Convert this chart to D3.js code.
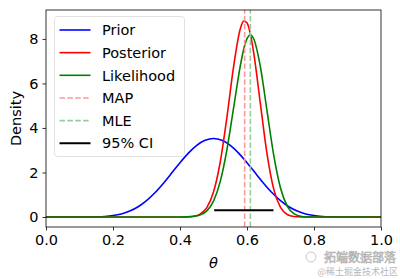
<!DOCTYPE html>
<html>
<head>
<meta charset="utf-8">
<script src="https://cdn.jsdelivr.net/npm/d3@7"></script>
<style>
  body { margin: 0; background: #fff; }
  svg { display: block; font-family: "DejaVu Sans", sans-serif; }
</style>
</head>
<body>
<div id="chart"></div>
<script>
// values
var priorTheta = [0, 0.05, 0.1, 0.125, 0.15, 0.175, 0.2, 0.225, 0.25, 0.275, 0.3, 0.325, 0.35, 0.375, 0.4, 0.425, 0.45, 0.475, 0.5,
                  0.525, 0.55, 0.575, 0.6, 0.625, 0.65, 0.675, 0.7, 0.725, 0.75, 0.775, 0.8, 0.825, 0.85, 0.875, 0.9, 0.95, 1]
var priorValues = [0, 0, 0.0004, 0.002, 0.008, 0.025, 0.064, 0.138, 0.265, 0.46, 0.734, 1.087, 1.508, 1.971, 2.441, 2.871, 3.219, 3.443, 3.524,
                   3.443, 3.219, 2.871, 2.441, 1.971, 1.508, 1.087, 0.734, 0.46, 0.265, 0.138, 0.064, 0.025, 0.008, 0.002, 0.0004, 0, 0]

var theta = [0, 0.1, 0.2, 0.3, 0.38, 0.4, 0.42, 0.44, 0.46, 0.48, 0.5, 0.52, 0.54, 0.56, 0.58, 0.59, 0.6, 0.61, 0.62,
             0.64, 0.66, 0.68, 0.7, 0.72, 0.74, 0.76, 0.78, 0.8, 0.82, 0.9, 1]
var posteriorValues = [0, 0, 0, 0, 0, 0.0012, 0.0069, 0.034, 0.132, 0.423, 1.119, 2.459, 4.476, 6.76, 8.454, 8.798, 8.721, 8.228, 7.381,
                       5.082, 2.818, 1.24, 0.427, 0.112, 0.022, 0.003, 0.0003, 0, 0, 0, 0]
var likelihoodValues = [0, 0, 0, 0, 0, 0.0011, 0.0056, 0.024, 0.089, 0.273, 0.713, 1.589, 3.019, 4.901, 6.791, 7.528, 8.011, 8.18, 8.009,
                        6.743, 4.743, 2.755, 1.303, 0.493, 0.146, 0.033, 0.0054, 0.0006, 0, 0, 0]

var mapValue = 0.593
var mleValue = 0.61
var ciBounds = [0.502, 0.679]
var ciLevel = 0.3

var xTicks = [0, 0.2, 0.4, 0.6, 0.8, 1.0]
var yTicks = [0, 2, 4, 6, 8]
var legendLabels = ["Prior", "Posterior", "Likelihood", "MAP", "MLE", "95% CI"]

var W = 400, H = 279
var margin = {top: 10, right: 19, bottom: 52, left: 46}

var svg = d3.select("#chart").append("svg")
    .attr("width", W)
    .attr("height", H)

var x = d3.scaleLinear().domain([0, 1]).range([margin.left, W - margin.right])
var y = d3.scaleLinear().domain([-0.45, 9.3]).range([H - margin.bottom, margin.top])

var fontSize = "14.5px"

var plot = svg.append("g")

var line = d3.line()
    .x(function(d) { return x(d[0]) })
    .y(function(d) { return y(d[1]) })
    .curve(d3.curveMonotoneX)

var series = [
  {name: "Prior", color: "#0000ff", pts: d3.zip(priorTheta, priorValues)},
  {name: "Posterior", color: "#ff0000", pts: d3.zip(theta, posteriorValues)},
  {name: "Likelihood", color: "#008000", pts: d3.zip(theta, likelihoodValues)}
]

plot.selectAll("path.curve")
  .data(series)
  .enter()
  .append("path")
    .attr("class", "curve")
    .attr("fill", "none")
    .attr("stroke", function(d) { return d.color })
    .attr("stroke-width", 1.6)
    .attr("d", function(d) { return line(d.pts) })

// MAP / MLE vertical lines across the whole axes
var vlines = [
  {v: mapValue, color: "#ff9999"},
  {v: mleValue, color: "#99cc99"}
]
plot.selectAll("line.vl")
  .data(vlines)
  .enter()
  .append("line")
    .attr("class", "vl")
    .attr("x1", function(d) { return x(d.v) })
    .attr("x2", function(d) { return x(d.v) })
    .attr("y1", y.range()[0])
    .attr("y2", y.range()[1])
    .attr("stroke", function(d) { return d.color })
    .attr("stroke-width", 1.6)
    .attr("stroke-dasharray", "5.5,2.4")

// credible interval bar
plot.append("line")
    .attr("x1", x(ciBounds[0]))
    .attr("x2", x(ciBounds[1]))
    .attr("y1", y(ciLevel))
    .attr("y2", y(ciLevel))
    .attr("stroke", "#000")
    .attr("stroke-width", 2)

// axes
var xAxis = svg.append("g")
    .attr("transform", "translate(0," + (H - margin.bottom) + ")")
    .call(d3.axisBottom(x).tickValues(xTicks).tickFormat(d3.format(".1f")).tickSize(3.5).tickPadding(4))
var yAxis = svg.append("g")
    .attr("transform", "translate(" + margin.left + ",0)")
    .call(d3.axisLeft(y).tickValues(yTicks).tickFormat(d3.format("d")).tickSize(3.5).tickPadding(4))

svg.selectAll(".domain").remove()
svg.selectAll(".tick line").attr("stroke", "#000").attr("stroke-width", 0.8)
svg.selectAll(".tick text")
    .attr("fill", "#000")
    .style("font-size", fontSize)
    .style("font-family", "DejaVu Sans")

// frame
svg.append("rect")
    .attr("x", margin.left)
    .attr("y", margin.top)
    .attr("width", W - margin.left - margin.right)
    .attr("height", H - margin.top - margin.bottom)
    .attr("fill", "none")
    .attr("stroke", "#000")
    .attr("stroke-width", 0.8)

// axis labels
svg.append("text")
    .attr("x", (margin.left + W - margin.right) / 2)
    .attr("y", 268)
    .attr("text-anchor", "middle")
    .style("font-size", fontSize)
    .style("font-style", "italic")
    .text("θ")
svg.append("text")
    .attr("transform", "translate(21," + (margin.top + H - margin.bottom) / 2 + ") rotate(-90)")
    .attr("text-anchor", "middle")
    .style("font-size", fontSize)
    .text("Density")

// legend
var legend = svg.append("g")
legend.append("rect")
    .attr("x", 54.5)
    .attr("y", 16.5)
    .attr("width", 130)
    .attr("height", 140)
    .attr("rx", 3)
    .attr("fill", "#fff")
    .attr("fill-opacity", 0.8)
    .attr("stroke", "#d9d9d9")
    .attr("stroke-width", 0.8)

var legendStyle = [
  {color: "#0000ff", dash: null, w: 1.6},
  {color: "#ff0000", dash: null, w: 1.6},
  {color: "#008000", dash: null, w: 1.6},
  {color: "#ff9999", dash: "5.5,2.4", w: 1.6},
  {color: "#99cc99", dash: "5.5,2.4", w: 1.6},
  {color: "#000000", dash: null, w: 2}
]

var items = legend.selectAll("g.item")
  .data(legendLabels)
  .enter()
  .append("g")
    .attr("class", "item")
    .attr("transform", function(d, i) { return "translate(0," + (30 + i * 22.65) + ")" })

items.append("line")
    .attr("x1", 59.5)
    .attr("x2", 90.5)
    .attr("stroke", function(d, i) { return legendStyle[i].color })
    .attr("stroke-width", function(d, i) { return legendStyle[i].w })
    .attr("stroke-dasharray", function(d, i) { return legendStyle[i].dash })
items.append("text")
    .attr("x", 102)
    .attr("dy", "0.36em")
    .style("font-size", fontSize)
    .text(function(d) { return d })

// watermark
var wm = svg.append("g").attr("fill", "#b8b8b8")
wm.append("circle")
    .attr("cx", 311).attr("cy", 257).attr("r", 5)
    .attr("fill", "none").attr("stroke", "#c8c8c8")
wm.append("text")
    .attr("x", 324).attr("y", 262)
    .style("font-family", "Noto Sans CJK SC")
    .style("font-size", "12px")
    .attr("fill", "#fff")
    .attr("stroke", "#aaa")
    .attr("stroke-width", 0.6)
    .text("拓端数据部落")
wm.append("text")
    .attr("x", 398).attr("y", 275)
    .attr("text-anchor", "end")
    .style("font-family", "Noto Sans CJK SC")
    .style("font-size", "9px")
    .text("@稀土掘金技术社区")
</script>
</body>
</html>
